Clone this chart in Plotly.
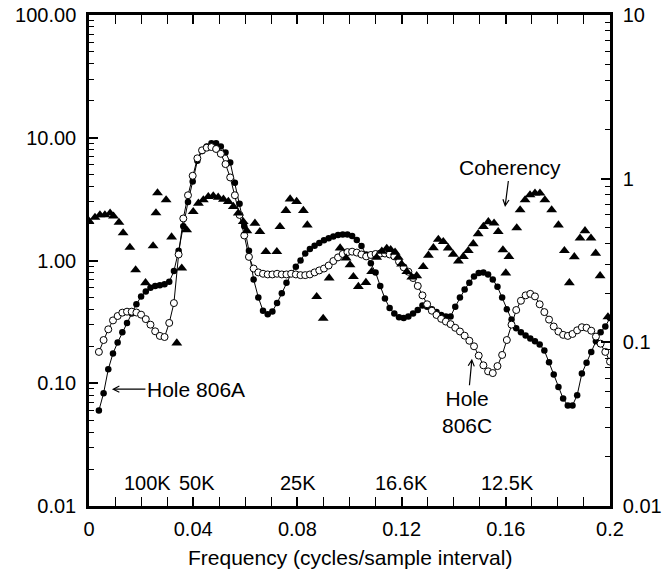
import plotly.graph_objects as go

# ---------------- data ----------------
freq = [round(0.0038 + 0.0018 * i, 4) for i in range(110)]

hole_806a = [
    0.06, 0.083, 0.13, 0.175, 0.215, 0.26, 0.31, 0.37, 0.44, 0.51,
    0.56, 0.60, 0.62, 0.63, 0.64, 0.67, 0.82, 1.2, 1.9, 3.0,
    4.4, 6.5, 7.8, 8.5, 9.0, 9.0, 8.5, 7.6, 6.3, 4.3,
    2.9, 1.9, 1.2, 0.7, 0.5, 0.39, 0.365, 0.385, 0.45, 0.54,
    0.66, 0.78, 0.89, 1.0, 1.14, 1.24, 1.32, 1.39, 1.46, 1.52,
    1.57, 1.61, 1.63, 1.63, 1.58, 1.47, 1.31, 1.12, 0.95, 0.80,
    0.62, 0.49, 0.41, 0.37, 0.345, 0.34, 0.35, 0.37, 0.395, 0.43,
    0.42, 0.40, 0.38, 0.36, 0.35, 0.35, 0.42, 0.50, 0.58, 0.66,
    0.74, 0.79, 0.80, 0.77, 0.70, 0.61, 0.50, 0.40, 0.33, 0.28,
    0.26, 0.245, 0.232, 0.22, 0.207, 0.185, 0.148, 0.118, 0.093, 0.075,
    0.066, 0.066, 0.08, 0.12, 0.147, 0.18, 0.22, 0.26, 0.29, 0.34,
]

hole_806c = [
    0.18, 0.225, 0.275, 0.325, 0.353, 0.376, 0.383, 0.383, 0.377, 0.362,
    0.333, 0.30, 0.265, 0.243, 0.238, 0.31, 0.45, 1.12, 2.2, 3.4,
    4.9, 6.8, 7.9, 8.3, 8.4, 8.1, 7.4, 6.1, 4.75, 3.4,
    2.35, 1.6, 1.07, 0.86, 0.80, 0.78, 0.77, 0.77, 0.78, 0.77,
    0.77, 0.78, 0.77, 0.76, 0.76, 0.77, 0.80, 0.83, 0.86, 0.91,
    0.99, 1.06, 1.13, 1.17, 1.18, 1.16, 1.12, 1.08, 1.11, 1.13,
    1.14, 1.14, 1.12, 1.08, 0.98, 0.88, 0.81, 0.72, 0.62, 0.52,
    0.44, 0.39, 0.36, 0.335, 0.318, 0.303, 0.283, 0.264, 0.244, 0.222,
    0.20, 0.168, 0.14, 0.125, 0.121, 0.138, 0.17, 0.225, 0.30, 0.395,
    0.47, 0.52, 0.535, 0.51, 0.44, 0.38, 0.33, 0.29, 0.264, 0.248,
    0.243, 0.252, 0.27, 0.286, 0.283, 0.268, 0.24, 0.21, 0.18, 0.15,
]

coh_freq = [
    0.0, 0.0023, 0.0042, 0.0061, 0.0081, 0.0094, 0.0115, 0.0131, 0.0157, 0.0179,
    0.0217, 0.0246, 0.0257, 0.0263, 0.0296, 0.0317, 0.0337, 0.0356, 0.0375, 0.0400,
    0.0420, 0.0439, 0.0458, 0.0477, 0.0496, 0.0516, 0.0535, 0.0554, 0.0573, 0.0592,
    0.0606, 0.0637, 0.0656, 0.0679, 0.0721, 0.0733, 0.0756, 0.0772, 0.0797, 0.0823,
    0.0838, 0.0874, 0.0899, 0.0922, 0.0964, 0.0987, 0.1002, 0.1015, 0.1034, 0.1063,
    0.1085, 0.1104, 0.1124, 0.1143, 0.1158, 0.1175, 0.1187, 0.1200, 0.1220, 0.1239,
    0.1258, 0.1283, 0.1303, 0.1322, 0.1341, 0.1360, 0.1379, 0.1398, 0.1418, 0.1437,
    0.1456, 0.1475, 0.1494, 0.1514, 0.1533, 0.1555, 0.1571, 0.1589, 0.1600, 0.1612,
    0.1642, 0.1655, 0.1674, 0.1693, 0.1712, 0.1731, 0.1750, 0.1776, 0.1802, 0.1825,
    0.1844, 0.1863, 0.1885, 0.1904, 0.1927, 0.1945, 0.1962, 0.1992,
]
coherency = [
    0.55, 0.58, 0.60, 0.60, 0.615, 0.59, 0.54, 0.466, 0.38, 0.277,
    0.231, 0.388, 0.617, 0.818, 0.741, 0.44, 0.099, 0.284, 0.486, 0.628,
    0.707, 0.741, 0.776, 0.784, 0.769, 0.748, 0.724, 0.675, 0.615, 0.546,
    0.48, 0.534, 0.474, 0.358, 0.358, 0.509, 0.638, 0.75, 0.724, 0.638,
    0.521, 0.19, 0.14, 0.247, 0.377, 0.327, 0.297, 0.252, 0.219, 0.232,
    0.27, 0.33, 0.36, 0.375, 0.368, 0.355, 0.33, 0.30, 0.27, 0.25,
    0.255, 0.29, 0.34, 0.378, 0.425, 0.412, 0.377, 0.345, 0.313, 0.334,
    0.363, 0.40, 0.46, 0.51, 0.545, 0.535, 0.474, 0.367, 0.265, 0.334,
    0.50, 0.644, 0.741, 0.795, 0.815, 0.815, 0.741, 0.644, 0.521, 0.363,
    0.231, 0.333, 0.433, 0.48, 0.433, 0.35, 0.255, 0.143,
]

x_tickvals = [0, 0.04, 0.08, 0.12, 0.16, 0.2]
x_ticktext = ["0", "0.04", "0.08", "0.12", "0.16", "0.2"]
x_minor = [0.01, 0.02, 0.03, 0.05, 0.06, 0.07, 0.09, 0.10, 0.11, 0.13, 0.14, 0.15, 0.17, 0.18, 0.19]

yl_tickvals = [0.01, 0.1, 1, 10, 100]
yl_ticktext = ["0.01", "0.10", "1.00", "10.00", "100.00"]
yr_tickvals = [0.01, 0.1, 1, 10]
yr_ticktext = ["0.01", "0.1", "1", "10"]

period_labels = ["100K", "50K", "25K", "16.6K", "12.5K"]
period_pos = [0.0226, 0.0415, 0.0802, 0.1200, 0.1605]

x_title = "Frequency (cycles/sample interval)"

FONT = "Liberation Sans, Arial, Helvetica, sans-serif"
TICK_SIZE = 20
TEXT_SIZE = 21


def log_minor(lo_exp, hi_exp):
    return [m * 10 ** e for e in range(lo_exp, hi_exp) for m in range(2, 10)]


assert len(freq) == len(hole_806a) == len(hole_806c)
assert len(coh_freq) == len(coherency)

fig = go.Figure()

fig.add_trace(go.Scatter(
    x=freq, y=hole_806a, mode="lines+markers", name="Hole 806A",
    line=dict(color="black", width=1),
    marker=dict(symbol="circle", size=6.5, color="black"),
))
fig.add_trace(go.Scatter(
    x=freq, y=hole_806c, mode="lines+markers", name="Hole 806C",
    line=dict(color="black", width=1),
    marker=dict(symbol="circle", size=7, color="white",
                line=dict(color="black", width=1)),
))
fig.add_trace(go.Scatter(
    x=coh_freq, y=coherency, mode="markers", name="Coherency", yaxis="y2",
    marker=dict(symbol="triangle-up", size=9.5, color="black"),
))

axis_common = dict(
    showline=True, linecolor="black", linewidth=2.5,
    ticks="inside", tickcolor="black", tickwidth=1.6, ticklen=9,
    showgrid=False, zeroline=False, automargin=False,
    tickfont=dict(family=FONT, size=TICK_SIZE, color="black"),
)
minor_common = dict(tickmode="array", ticks="inside", ticklen=5, tickwidth=1.4,
                    tickcolor="black", showgrid=False)

fig.update_layout(
    width=671, height=570,
    margin=dict(l=89, r=61, t=15, b=64),
    paper_bgcolor="white", plot_bgcolor="white",
    showlegend=False,
    font=dict(family=FONT, size=TEXT_SIZE, color="black"),
    xaxis=dict(
        range=[0, 0.2], tickmode="array", tickvals=x_tickvals, ticktext=x_ticktext,
        mirror="allticks", ticklabelstandoff=3,
        minor=dict(tickvals=x_minor, **minor_common),
        **axis_common,
    ),
    yaxis=dict(
        type="log", range=[-2, 2], tickmode="array",
        tickvals=yl_tickvals, ticktext=yl_ticktext, ticklabelstandoff=6,
        minor=dict(tickvals=log_minor(-2, 2), **minor_common),
        **axis_common,
    ),
    yaxis2=dict(
        type="log", range=[-2, 1], overlaying="y", side="right", tickmode="array",
        tickvals=yr_tickvals, ticktext=yr_ticktext, ticklabelstandoff=6,
        minor=dict(tickvals=log_minor(-2, 1), **minor_common),
        **axis_common,
    ),
)

annots = []
for lab, pos in zip(period_labels, period_pos):
    annots.append(dict(x=pos, y=0.047, xref="x", yref="paper", text=lab,
                       showarrow=False, xanchor="center", yanchor="middle",
                       font=dict(family=FONT, size=TICK_SIZE, color="black")))

# x-axis title placed as an annotation below the tick labels
annots.append(dict(x=0.5, y=-0.104, xref="paper", yref="paper", text=x_title,
                   showarrow=False, xanchor="center", yanchor="middle",
                   font=dict(family=FONT, size=TEXT_SIZE, color="black")))

arrow_style = dict(showarrow=True, arrowhead=5, arrowsize=1, arrowwidth=1.2,
                   arrowcolor="black", font=dict(family=FONT, size=TEXT_SIZE, color="black"))
annots.append(dict(x=0.0088, y=0.238, xref="x", yref="paper", text="Hole 806A",
                   ax=84, ay=0, **arrow_style))
annots.append(dict(x=0.1597, y=0.609, xref="x", yref="paper", text="Coherency",
                   ax=5, ay=-39, **arrow_style))
annots.append(dict(x=0.1470, y=0.300, xref="x", yref="paper", text="Hole<br>806C",
                   ax=-5, ay=53, **arrow_style))
fig.update_layout(annotations=annots)

fig.write_html("out.html")
